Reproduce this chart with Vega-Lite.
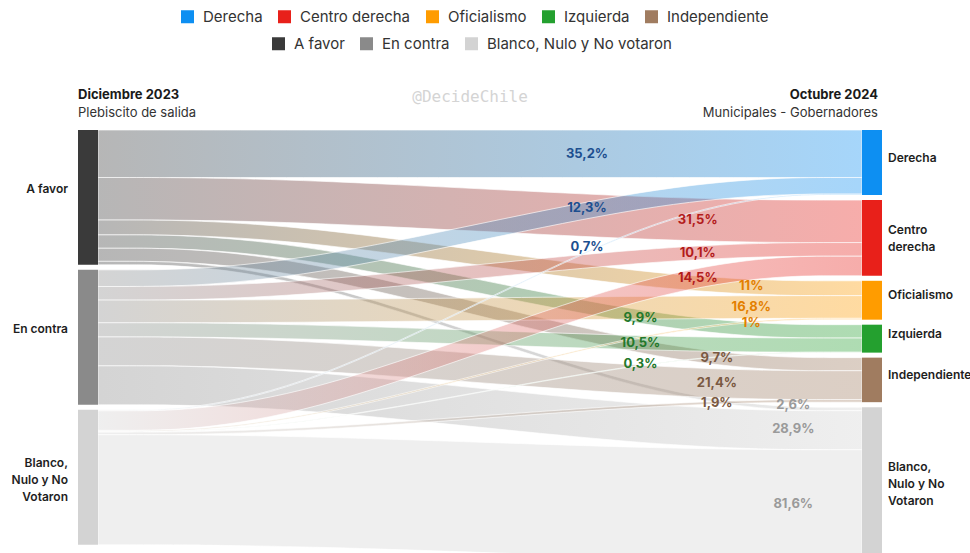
{
  "$schema": "https://vega.github.io/schema/vega-lite/v6.json",
  "width": 804,
  "height": 423,
  "autosize": {"type": "none"},
  "padding": {"left": 78, "top": 130, "right": 88, "bottom": 0},
  "background": "white",
  "config": {
    "font": "Inter",
    "view": {"stroke": null},
    "locale": {"number": {"decimal": ",", "thousands": ".", "grouping": [3], "currency": ["$", ""]}}
  },
  "datasets": {
    "flows": [
      {"source": "A favor", "target": "Derecha", "si": 0, "ti": 0, "value": 35.2},
      {"source": "A favor", "target": "Centro derecha", "si": 0, "ti": 1, "value": 31.5},
      {"source": "A favor", "target": "Oficialismo", "si": 0, "ti": 2, "value": 11},
      {"source": "A favor", "target": "Izquierda", "si": 0, "ti": 3, "value": 9.9},
      {"source": "A favor", "target": "Independiente", "si": 0, "ti": 4, "value": 9.7},
      {"source": "A favor", "target": "Blanco, Nulo y No votaron", "si": 0, "ti": 5, "value": 2.6},
      {"source": "En contra", "target": "Derecha", "si": 1, "ti": 0, "value": 12.3},
      {"source": "En contra", "target": "Centro derecha", "si": 1, "ti": 1, "value": 10.1},
      {"source": "En contra", "target": "Oficialismo", "si": 1, "ti": 2, "value": 16.8},
      {"source": "En contra", "target": "Izquierda", "si": 1, "ti": 3, "value": 10.5},
      {"source": "En contra", "target": "Independiente", "si": 1, "ti": 4, "value": 21.4},
      {"source": "En contra", "target": "Blanco, Nulo y No votaron", "si": 1, "ti": 5, "value": 28.9},
      {"source": "Blanco, Nulo y No votaron", "target": "Derecha", "si": 2, "ti": 0, "value": 0.7},
      {"source": "Blanco, Nulo y No votaron", "target": "Centro derecha", "si": 2, "ti": 1, "value": 14.5},
      {"source": "Blanco, Nulo y No votaron", "target": "Oficialismo", "si": 2, "ti": 2, "value": 1},
      {"source": "Blanco, Nulo y No votaron", "target": "Izquierda", "si": 2, "ti": 3, "value": 0.3},
      {"source": "Blanco, Nulo y No votaron", "target": "Independiente", "si": 2, "ti": 4, "value": 1.9},
      {"source": "Blanco, Nulo y No votaron", "target": "Blanco, Nulo y No votaron", "si": 2, "ti": 5, "value": 81.6}
    ],
    "names": [
      {"name": "A favor", "label": "A favor"},
      {"name": "En contra", "label": "En contra"},
      {"name": "Blanco, Nulo y No votaron", "label": "Blanco,|Nulo y No|Votaron"},
      {"name": "Derecha", "label": "Derecha"},
      {"name": "Centro derecha", "label": "Centro|derecha"},
      {"name": "Oficialismo", "label": "Oficialismo"},
      {"name": "Izquierda", "label": "Izquierda"},
      {"name": "Independiente", "label": "Independiente"}
    ],
    "headers": [
      {"pos": "left", "kind": "title", "text": "Diciembre 2023"},
      {"pos": "left", "kind": "sub", "text": "Plebiscito de salida"},
      {"pos": "right", "kind": "title", "text": "Octubre 2024"},
      {"pos": "right", "kind": "sub", "text": "Municipales - Gobernadores"},
      {"pos": "center", "kind": "mark", "text": "@DecideChile"}
    ]
  },
  "layer": [
    {
      "data": {"name": "flows"},
      "transform": [
        {"window": [{"op": "sum", "field": "value", "as": "scum"}], "sort": [{"field": "si"}, {"field": "ti"}], "frame": [null, 0]},
        {"window": [{"op": "sum", "field": "value", "as": "tcum"}], "sort": [{"field": "ti"}, {"field": "si"}], "frame": [null, 0]},
        {"calculate": "datum.scum - datum.value + datum.si * 3.7037", "as": "sy0"},
        {"calculate": "datum.sy0 + datum.value", "as": "sy1"},
        {"calculate": "datum.tcum - datum.value + datum.ti * 3.7037", "as": "ty0"},
        {"calculate": "datum.ty0 + datum.value", "as": "ty1"}
      ],
      "resolve": {"scale": {"color": "independent"}},
      "layer": [
        {
          "transform": [
            {"calculate": "datum.sy0", "as": "p0"},
            {"calculate": "datum.sy0", "as": "p1"},
            {"calculate": "datum.ty0", "as": "p2"},
            {"calculate": "datum.ty0", "as": "p3"},
            {"fold": ["p0", "p1", "p2", "p3"], "as": ["pt", "top"]},
            {"calculate": "datum.pt === 'p0' ? 0 : datum.pt === 'p1' ? 0.25 : datum.pt === 'p2' ? 0.75 : 1", "as": "px"},
            {"calculate": "datum.top + datum.value", "as": "bot"}
          ],
          "mark": {"type": "area", "interpolate": "basis", "fillOpacity": 0.37, "stroke": "#ffffff", "strokeWidth": 0.8, "strokeOpacity": 0.8, "clip": true},
          "encoding": {
            "x": {"field": "px", "type": "quantitative", "scale": {"domain": [-0.026178, 1.026178], "nice": false, "zero": false}, "axis": null},
            "y": {"field": "top", "type": "quantitative", "stack": null, "scale": {"domain": [0, 313.333], "reverse": true, "nice": false, "zero": false}, "axis": null},
            "y2": {"field": "bot"},
            "detail": [{"field": "si"}, {"field": "ti"}],
            "fill": {
              "condition": [
                {"test": "datum.si === 0 && datum.ti === 0", "value": {"gradient": "linear", "stops": [{"offset": 0, "color": "#3a3a3a"}, {"offset": 1, "color": "#0d8ff2"}]}},
                {"test": "datum.si === 0 && datum.ti === 1", "value": {"gradient": "linear", "stops": [{"offset": 0, "color": "#3a3a3a"}, {"offset": 1, "color": "#e8201a"}]}},
                {"test": "datum.si === 0 && datum.ti === 2", "value": {"gradient": "linear", "stops": [{"offset": 0, "color": "#3a3a3a"}, {"offset": 1, "color": "#ff9c00"}]}},
                {"test": "datum.si === 0 && datum.ti === 3", "value": {"gradient": "linear", "stops": [{"offset": 0, "color": "#3a3a3a"}, {"offset": 1, "color": "#24a02f"}]}},
                {"test": "datum.si === 0 && datum.ti === 4", "value": {"gradient": "linear", "stops": [{"offset": 0, "color": "#3a3a3a"}, {"offset": 1, "color": "#a07c60"}]}},
                {"test": "datum.si === 0 && datum.ti === 5", "value": {"gradient": "linear", "stops": [{"offset": 0, "color": "#3a3a3a"}, {"offset": 1, "color": "#d3d3d3"}]}},
                {"test": "datum.si === 1 && datum.ti === 0", "value": {"gradient": "linear", "stops": [{"offset": 0, "color": "#8a8a8a"}, {"offset": 1, "color": "#0d8ff2"}]}},
                {"test": "datum.si === 1 && datum.ti === 1", "value": {"gradient": "linear", "stops": [{"offset": 0, "color": "#8a8a8a"}, {"offset": 1, "color": "#e8201a"}]}},
                {"test": "datum.si === 1 && datum.ti === 2", "value": {"gradient": "linear", "stops": [{"offset": 0, "color": "#8a8a8a"}, {"offset": 1, "color": "#ff9c00"}]}},
                {"test": "datum.si === 1 && datum.ti === 3", "value": {"gradient": "linear", "stops": [{"offset": 0, "color": "#8a8a8a"}, {"offset": 1, "color": "#24a02f"}]}},
                {"test": "datum.si === 1 && datum.ti === 4", "value": {"gradient": "linear", "stops": [{"offset": 0, "color": "#8a8a8a"}, {"offset": 1, "color": "#a07c60"}]}},
                {"test": "datum.si === 1 && datum.ti === 5", "value": {"gradient": "linear", "stops": [{"offset": 0, "color": "#8a8a8a"}, {"offset": 1, "color": "#d3d3d3"}]}},
                {"test": "datum.si === 2 && datum.ti === 0", "value": {"gradient": "linear", "stops": [{"offset": 0, "color": "#d3d3d3"}, {"offset": 1, "color": "#0d8ff2"}]}},
                {"test": "datum.si === 2 && datum.ti === 1", "value": {"gradient": "linear", "stops": [{"offset": 0, "color": "#d3d3d3"}, {"offset": 1, "color": "#e8201a"}]}},
                {"test": "datum.si === 2 && datum.ti === 2", "value": {"gradient": "linear", "stops": [{"offset": 0, "color": "#d3d3d3"}, {"offset": 1, "color": "#ff9c00"}]}},
                {"test": "datum.si === 2 && datum.ti === 3", "value": {"gradient": "linear", "stops": [{"offset": 0, "color": "#d3d3d3"}, {"offset": 1, "color": "#24a02f"}]}},
                {"test": "datum.si === 2 && datum.ti === 4", "value": {"gradient": "linear", "stops": [{"offset": 0, "color": "#d3d3d3"}, {"offset": 1, "color": "#a07c60"}]}}
              ],
              "value": "#d3d3d3"
            }
          }
        },
        {
          "transform": [
            {"aggregate": [{"op": "min", "field": "sy0", "as": "n0"}, {"op": "max", "field": "sy1", "as": "n1"}], "groupby": ["source"]}
          ],
          "mark": {"type": "rect", "clip": true},
          "encoding": {
            "x": {"datum": -0.026178, "type": "quantitative", "scale": {"domain": [-0.026178, 1.026178], "nice": false, "zero": false}, "axis": null},
            "x2": {"datum": 0},
            "y": {"field": "n0", "type": "quantitative", "scale": {"domain": [0, 313.333], "reverse": true, "nice": false, "zero": false}, "axis": null},
            "y2": {"field": "n1"},
            "color": {
              "field": "source",
              "type": "nominal",
              "scale": {"domain": ["A favor", "En contra", "Blanco, Nulo y No votaron"], "range": ["#3a3a3a", "#8a8a8a", "#d3d3d3"]},
              "legend": {"title": null, "orient": "none", "legendX": 193, "legendY": -94, "direction": "horizontal", "symbolType": "square", "symbolSize": 169, "symbolStrokeWidth": 0, "symbolOpacity": 1, "labelFontSize": 15, "labelColor": "#333333", "labelFont": "Inter", "labelOffset": 8, "columnPadding": 14, "padding": 0, "labelLimit": 400}
            }
          }
        },
        {
          "transform": [
            {"aggregate": [{"op": "min", "field": "ty0", "as": "n0"}, {"op": "max", "field": "ty1", "as": "n1"}], "groupby": ["target"]}
          ],
          "mark": {"type": "rect", "clip": true},
          "encoding": {
            "x": {"datum": 1, "type": "quantitative", "scale": {"domain": [-0.026178, 1.026178], "nice": false, "zero": false}, "axis": null},
            "x2": {"datum": 1.026178},
            "y": {"field": "n0", "type": "quantitative", "scale": {"domain": [0, 313.333], "reverse": true, "nice": false, "zero": false}, "axis": null},
            "y2": {"field": "n1"},
            "color": {
              "field": "target",
              "type": "nominal",
              "scale": {"domain": ["Derecha", "Centro derecha", "Oficialismo", "Izquierda", "Independiente", "Blanco, Nulo y No votaron"], "range": ["#0d8ff2", "#e8201a", "#ff9c00", "#24a02f", "#a07c60", "#d3d3d3"]},
              "legend": {"title": null, "values": ["Derecha", "Centro derecha", "Oficialismo", "Izquierda", "Independiente"], "orient": "none", "legendX": 102, "legendY": -121, "direction": "horizontal", "symbolType": "square", "symbolSize": 169, "symbolStrokeWidth": 0, "symbolOpacity": 1, "labelFontSize": 15, "labelColor": "#333333", "labelFont": "Inter", "labelOffset": 8, "columnPadding": 14, "padding": 0, "labelLimit": 400}
            }
          }
        },
        {
          "transform": [
            {"aggregate": [{"op": "min", "field": "sy0", "as": "n0"}, {"op": "max", "field": "sy1", "as": "n1"}], "groupby": ["source"]},
            {"lookup": "source", "from": {"data": {"name": "names"}, "key": "name", "fields": ["label"]}},
            {"calculate": "split(datum.label, '|')", "as": "lines"},
            {"calculate": "(datum.n0 + datum.n1) / 2 + (length(datum.lines) > 1 ? (2.5 - (length(datum.lines) - 1) * 8.5) / 1.35 : -8 / 1.35)", "as": "mid"}
          ],
          "mark": {"type": "text", "align": "right", "baseline": "middle", "dx": -10, "fontSize": 12, "fontWeight": 600, "lineHeight": 17, "color": "#1e1e1e"},
          "encoding": {
            "x": {"datum": -0.026178, "type": "quantitative", "scale": {"domain": [-0.026178, 1.026178], "nice": false, "zero": false}, "axis": null},
            "y": {"field": "mid", "type": "quantitative", "scale": {"domain": [0, 313.333], "reverse": true, "nice": false, "zero": false}, "axis": null},
            "text": {"field": "lines"}
          }
        },
        {
          "transform": [
            {"aggregate": [{"op": "min", "field": "ty0", "as": "n0"}, {"op": "max", "field": "ty1", "as": "n1"}], "groupby": ["target"]},
            {"lookup": "target", "from": {"data": {"name": "names"}, "key": "name", "fields": ["label"]}},
            {"calculate": "split(datum.label, '|')", "as": "lines"},
            {"calculate": "(datum.n0 + datum.n1) / 2 + (length(datum.lines) > 1 ? (0.5 - (length(datum.lines) - 1) * 8.5) / 1.35 : -5 / 1.35)", "as": "mid"}
          ],
          "mark": {"type": "text", "align": "left", "baseline": "middle", "dx": 6, "fontSize": 12, "fontWeight": 600, "lineHeight": 17, "color": "#1e1e1e"},
          "encoding": {
            "x": {"datum": 1.026178, "type": "quantitative", "scale": {"domain": [-0.026178, 1.026178], "nice": false, "zero": false}, "axis": null},
            "y": {"field": "mid", "type": "quantitative", "scale": {"domain": [0, 313.333], "reverse": true, "nice": false, "zero": false}, "axis": null},
            "text": {"field": "lines"}
          }
        },
        {
          "transform": [
            {"calculate": "datum.value / 100", "as": "pct"},
            {"calculate": "[0.64, 0.785, 0.855, 0.71, 0.81, 0.91][datum.ti]", "as": "lx"},
            {"calculate": "datum.sy0 + datum.value / 2 + (datum.ty0 - datum.sy0) * [0.758, 0.924, 0.968, 0.851, 0.943, 0.97][datum.ti]", "as": "ly"}
          ],
          "mark": {"type": "text", "align": "center", "baseline": "middle", "fontSize": 13, "fontWeight": "bold"},
          "encoding": {
            "x": {"field": "lx", "type": "quantitative", "scale": {"domain": [-0.026178, 1.026178], "nice": false, "zero": false}, "axis": null},
            "y": {"field": "ly", "type": "quantitative", "scale": {"domain": [0, 313.333], "reverse": true, "nice": false, "zero": false}, "axis": null},
            "text": {"field": "pct", "type": "quantitative", "format": ".1~%"},
            "color": {
              "field": "target",
              "type": "nominal",
              "scale": {"domain": ["Derecha", "Centro derecha", "Oficialismo", "Izquierda", "Independiente", "Blanco, Nulo y No votaron"], "range": ["#1d4f8f", "#b31c1c", "#e37f00", "#23782b", "#7a5942", "#9a9a9a"]},
              "legend": null
            }
          }
        }
      ]
    },
    {
      "data": {"name": "headers"},
      "transform": [{"filter": "datum.pos === 'left' && datum.kind === 'title'"}],
      "mark": {"type": "text", "align": "left", "baseline": "middle", "fontSize": 13, "fontWeight": "bold", "color": "#1a1a1a"},
      "encoding": {
        "x": {"datum": -0.026178, "type": "quantitative", "scale": {"domain": [-0.026178, 1.026178], "nice": false, "zero": false}, "axis": null},
        "y": {"datum": -25.9, "type": "quantitative", "scale": {"domain": [0, 313.333], "reverse": true, "nice": false, "zero": false}, "axis": null},
        "text": {"field": "text"}
      }
    },
    {
      "data": {"name": "headers"},
      "transform": [{"filter": "datum.pos === 'left' && datum.kind === 'sub'"}],
      "mark": {"type": "text", "align": "left", "baseline": "middle", "fontSize": 13, "color": "#333333"},
      "encoding": {
        "x": {"datum": -0.026178, "type": "quantitative", "scale": {"domain": [-0.026178, 1.026178], "nice": false, "zero": false}, "axis": null},
        "y": {"datum": -12.9, "type": "quantitative", "scale": {"domain": [0, 313.333], "reverse": true, "nice": false, "zero": false}, "axis": null},
        "text": {"field": "text"}
      }
    },
    {
      "data": {"name": "headers"},
      "transform": [{"filter": "datum.pos === 'right' && datum.kind === 'title'"}],
      "mark": {"type": "text", "align": "right", "baseline": "middle", "fontSize": 13, "fontWeight": "bold", "color": "#1a1a1a"},
      "encoding": {
        "x": {"datum": 1.0209, "type": "quantitative", "scale": {"domain": [-0.026178, 1.026178], "nice": false, "zero": false}, "axis": null},
        "y": {"datum": -25.9, "type": "quantitative", "scale": {"domain": [0, 313.333], "reverse": true, "nice": false, "zero": false}, "axis": null},
        "text": {"field": "text"}
      }
    },
    {
      "data": {"name": "headers"},
      "transform": [{"filter": "datum.pos === 'right' && datum.kind === 'sub'"}],
      "mark": {"type": "text", "align": "right", "baseline": "middle", "fontSize": 13, "color": "#333333"},
      "encoding": {
        "x": {"datum": 1.0209, "type": "quantitative", "scale": {"domain": [-0.026178, 1.026178], "nice": false, "zero": false}, "axis": null},
        "y": {"datum": -12.9, "type": "quantitative", "scale": {"domain": [0, 313.333], "reverse": true, "nice": false, "zero": false}, "axis": null},
        "text": {"field": "text"}
      }
    },
    {
      "data": {"name": "headers"},
      "transform": [{"filter": "datum.kind === 'mark'"}],
      "mark": {"type": "text", "align": "center", "baseline": "middle", "fontSize": 16, "font": "DejaVu Sans Mono", "color": "#d4d4d4"},
      "encoding": {
        "x": {"datum": 0.487, "type": "quantitative", "scale": {"domain": [-0.026178, 1.026178], "nice": false, "zero": false}, "axis": null},
        "y": {"datum": -24.4, "type": "quantitative", "scale": {"domain": [0, 313.333], "reverse": true, "nice": false, "zero": false}, "axis": null},
        "text": {"field": "text"}
      }
    }
  ]
}
